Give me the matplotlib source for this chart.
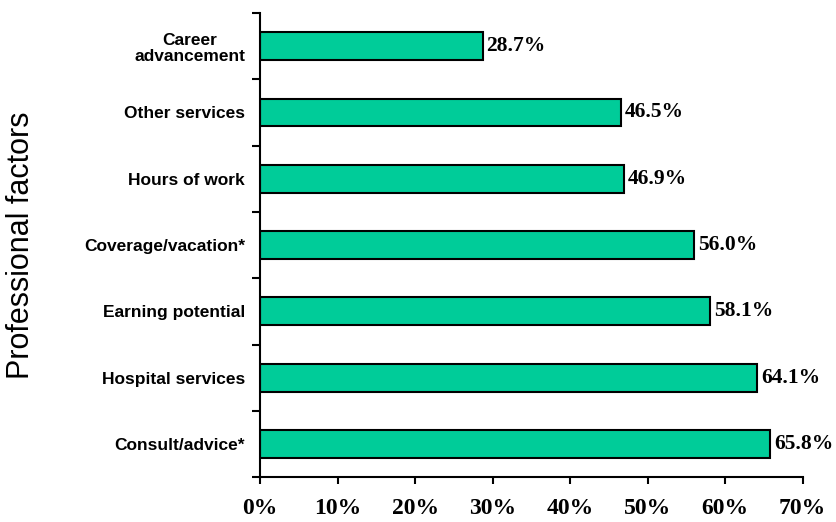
import matplotlib
import numpy as np

matplotlib.use("Agg")
import matplotlib.pyplot as plt
from matplotlib.ticker import FixedLocator, PercentFormatter

# Share of respondents citing each professional factor (bottom to top)
factors = [
    "Consult/advice*",
    "Hospital services",
    "Earning potential",
    "Coverage/vacation*",
    "Hours of work",
    "Other services",
    "Career\nadvancement",
]
percents = [65.8, 64.1, 58.1, 56.0, 46.9, 46.5, 28.7]
x_ticks = [0, 10, 20, 30, 40, 50, 60, 70]

BAR_COLOR = "#00CC99"
SERIF = "Liberation Serif"
SANS = "Liberation Sans"


def main():
    fig = plt.figure(figsize=(8.37, 5.22), dpi=100)
    ax = fig.add_axes([0.311, 0.086, 0.648, 0.889])

    y = np.arange(len(factors))
    bars = ax.barh(y, percents, height=0.42, color=BAR_COLOR, edgecolor="black", linewidth=1.5)

    for bar, val in zip(bars, percents):
        ax.text(
            bar.get_width() + 0.5,
            bar.get_y() + bar.get_height() / 2,
            f"{val:.1f}%",
            va="center",
            ha="left",
            fontsize=15.5,
            fontweight="bold",
            family=SERIF,
        )

    ax.set_xlim(0, 70)
    ax.set_ylim(-0.5, len(factors) - 0.5)

    ax.set_xticks(x_ticks)
    ax.xaxis.set_major_formatter(PercentFormatter(decimals=0))
    ax.tick_params(axis="x", length=5, width=1.5, direction="out", pad=10)
    for lbl in ax.get_xticklabels():
        lbl.set_fontsize(17)
        lbl.set_fontweight("bold")
        lbl.set_family(SERIF)

    # category labels sit between the tick marks, which fall on the boundaries
    ax.set_yticks(y)
    ax.set_yticklabels(factors, fontsize=12.5, fontweight="bold", family=SANS,
                       multialignment="center", linespacing=1.15)
    ax.tick_params(axis="y", which="major", length=0, pad=11)
    ax.yaxis.set_minor_locator(FixedLocator(np.arange(-0.5, len(factors), 1.0)))
    ax.tick_params(axis="y", which="minor", length=6, width=1.5, direction="out")

    ax.set_ylabel("Professional factors", fontsize=22, family=SANS)
    ax.yaxis.set_label_coords(-0.414, 0.5)

    for side in ("top", "right"):
        ax.spines[side].set_visible(False)
    for side in ("left", "bottom"):
        ax.spines[side].set_linewidth(1.5)

    fig.savefig("out.png", dpi=100)
    plt.close(fig)


if __name__ == "__main__":
    main()
